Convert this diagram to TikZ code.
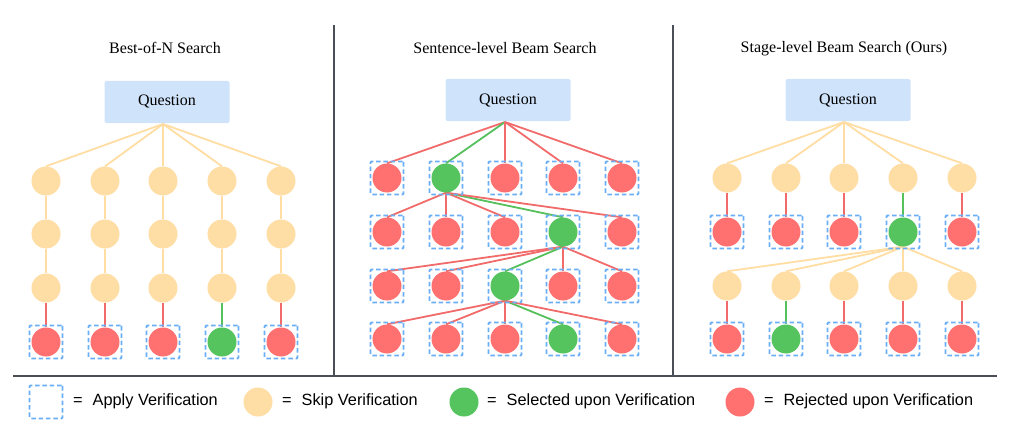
\documentclass[tikz,border=0pt]{standalone}
\usepackage{fontspec}
\setmainfont{Liberation Serif}
\newfontfamily\legendfont{Liberation Sans}
\usetikzlibrary{backgrounds}
\definecolor{skipc}{HTML}{FFDEA6}
\definecolor{rejc}{HTML}{FF7070}
\definecolor{selc}{HTML}{55C35E}
\definecolor{qc}{HTML}{CFE3FB}
\definecolor{boxc}{HTML}{6AAEF6}
\definecolor{divc}{HTML}{4A4F57}
\definecolor{skipl}{HTML}{FFDDA3}
\definecolor{rejl}{HTML}{F26B6B}
\definecolor{sell}{HTML}{55C05C}
\begin{document}
\begin{tikzpicture}[x=1pt,y=-1pt,
  dot/.style={circle,inner sep=0pt,minimum size=29pt},
  skipdot/.style={dot,fill=skipc},
  rejdot/.style={dot,fill=rejc},
  seldot/.style={dot,fill=selc},
  verbox/.style={draw=boxc,line width=1.8pt,dash pattern=on 4.5pt off 2.8pt,minimum size=33pt,inner sep=0pt,rounded corners=1pt},
  qbox/.style={fill=qc,minimum width=125pt,minimum height=42pt,inner sep=0pt,rounded corners=2pt,font=\fontsize{16}{19}\selectfont},
  ttl/.style={font=\fontsize{16}{19}\selectfont},
  sedge/.style={draw=skipl,line width=1.8pt},
  redge/.style={draw=rejl,line width=1.8pt},
  gedge/.style={draw=sell,line width=1.8pt},
  divider/.style={draw=divc,line width=1.8pt},
  leg/.style={font=\legendfont\fontsize{16.3}{19}\selectfont,anchor=west,inner sep=0pt}
]
\useasboundingbox (0,0) rectangle (1015,436);

% ---------- dividers ----------
\draw[divider] (334,25) -- (334,376);
\draw[divider] (673,25) -- (673,376);
\draw[divider] (13,376) -- (997,376);

% ---------- Panel 1: Best-of-N ----------
\node[ttl] (t1) at (165,48) {Best-of-N Search};
\node[qbox] (q1) at (167,102) {Question};
\coordinate (a1) at (163,124);
\foreach \x [count=\c] in {46,105,163,222,281} {
  \foreach \y [count=\r] in {181,234,288} {
    \node[skipdot] (p1r\r-\c) at (\x,\y) {};
  }
}
\foreach \x/\s [count=\c] in {46/rejdot,105/rejdot,163/rejdot,222/seldot,281/rejdot} {
  \node[verbox] (p1b-\c) at (\x,342) {};
  \node[\s] (p1r4-\c) at (\x,342) {};
}
\begin{scope}[on background layer]
  \foreach \c in {1,...,5} {
    \draw[sedge] (a1) -- (p1r1-\c.north);
    \draw[sedge] (p1r1-\c.south) -- (p1r2-\c.north);
    \draw[sedge] (p1r2-\c.south) -- (p1r3-\c.north);
  }
  \foreach \c/\e in {1/redge,2/redge,3/redge,4/gedge,5/redge}
    \draw[\e] (p1r3-\c.south) -- (p1r4-\c.north);
\end{scope}

% ---------- Panel 2: Sentence-level ----------
\node[ttl] (t2) at (505,48) {Sentence-level Beam Search};
\node[qbox] (q2) at (508,100) {Question};
\coordinate (a2) at (505,122);
\foreach \y/\g [count=\r] in {178/2,232/4,286/3,339/4} {
  \foreach \x [count=\c] in {387,446,505,563,622} {
    \node[verbox] (p2b\r-\c) at (\x,\y) {};
    \ifnum\c=\g
      \node[seldot] (p2r\r-\c) at (\x,\y) {};
    \else
      \node[rejdot] (p2r\r-\c) at (\x,\y) {};
    \fi
  }
}
\begin{scope}[on background layer]
  \foreach \c/\e in {1/redge,2/gedge,3/redge,4/redge,5/redge}
    \draw[\e] (a2) -- (p2r1-\c.north);
  \foreach \c/\e in {1/redge,2/redge,3/redge,4/gedge,5/redge}
    \draw[\e] (p2r1-2.south) -- (p2r2-\c.north);
  \foreach \c/\e in {1/redge,2/redge,3/gedge,4/redge,5/redge}
    \draw[\e] (p2r2-4.south) -- (p2r3-\c.north);
  \foreach \c/\e in {1/redge,2/redge,3/redge,4/gedge,5/redge}
    \draw[\e] (p2r3-3.south) -- (p2r4-\c.north);
\end{scope}

% ---------- Panel 3: Stage-level ----------
\node[ttl] (t3) at (844,49) {Stage-level Beam Search (Ours)};
\node[qbox] (q3) at (848,100) {Question};
\coordinate (a3) at (844,122);
\foreach \x [count=\c] in {727,786,844,903,962} {
  \node[skipdot] (p3r1-\c) at (\x,178) {};
  \node[skipdot] (p3r3-\c) at (\x,286) {};
  \node[verbox] (p3b2-\c) at (\x,232) {};
  \node[verbox] (p3b4-\c) at (\x,339) {};
  \ifnum\c=4
    \node[seldot] (p3r2-\c) at (\x,232) {};
  \else
    \node[rejdot] (p3r2-\c) at (\x,232) {};
  \fi
  \ifnum\c=2
    \node[seldot] (p3r4-\c) at (\x,339) {};
  \else
    \node[rejdot] (p3r4-\c) at (\x,339) {};
  \fi
}
\begin{scope}[on background layer]
  \foreach \c in {1,...,5} {
    \draw[sedge] (a3) -- (p3r1-\c.north);
    \draw[sedge] (p3r2-4.south) -- (p3r3-\c.north);
  }
  \foreach \c/\e in {1/redge,2/redge,3/redge,4/gedge,5/redge}
    \draw[\e] (p3r1-\c.south) -- (p3r2-\c.north);
  \foreach \c/\e in {1/redge,2/gedge,3/redge,4/redge,5/redge}
    \draw[\e] (p3r3-\c.south) -- (p3r4-\c.north);
\end{scope}

% ---------- Legend ----------
\node[verbox] (lb) at (46,402) {};
\node[leg] (lt1) at (73,401) {=\hspace{10pt}Apply Verification};
\node[skipdot] (ls) at (258,402) {};
\node[leg] (lt2) at (282,401) {=\hspace{10pt}Skip Verification};
\node[seldot] (lg) at (464,402) {};
\node[leg] (lt3) at (487,401) {=\hspace{10pt}Selected upon Verification};
\node[rejdot] (lr) at (740,402) {};
\node[leg] (lt4) at (764,401) {=\hspace{10pt}Rejected upon Verification};
\end{tikzpicture}
\end{document}
